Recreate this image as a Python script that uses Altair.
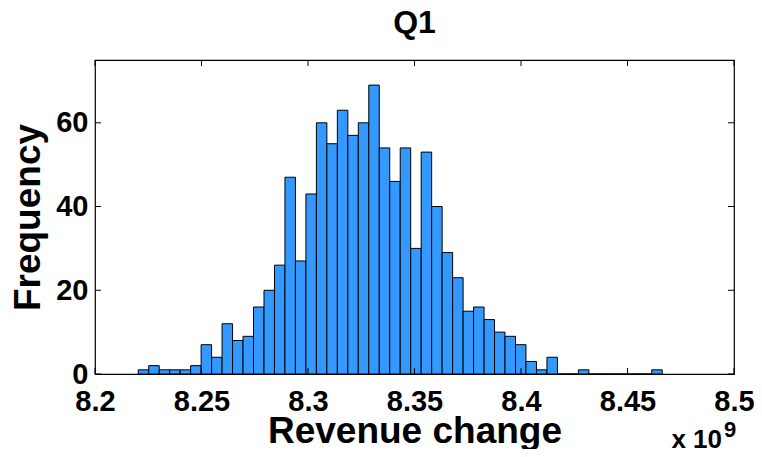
import altair as alt
import pandas as pd
import numpy as np

# Histogram counts (50 equal bins)
counts = [1, 2, 1, 1, 1, 2, 7, 4, 12, 8,
          9, 16, 20, 26, 47, 27, 43, 60, 55, 63,
          57, 60, 69, 54, 46, 54, 30, 53, 40, 29,
          23, 15, 16, 13, 10, 9, 7, 3, 1, 4,
          0, 0, 1, 0, 0, 0, 0, 0, 0, 1]
bin_start = 8.2203   # x 10^9
bin_width = 0.00492  # x 10^9

x_ticks = [8.2, 8.25, 8.3, 8.35, 8.4, 8.45, 8.5]
y_ticks = [0, 20, 40, 60]

W, H = 639, 314
FONT = "Liberation Sans"

edges = bin_start + bin_width * np.arange(len(counts) + 1)
df = pd.DataFrame({"lo": edges[:-1], "hi": edges[1:], "count": counts})
xt = pd.DataFrame({"t": x_ticks})
yt = pd.DataFrame({"t": y_ticks})

xscale = alt.Scale(domain=[8.2, 8.5], nice=False, zero=False)
yscale = alt.Scale(domain=[0, 75], nice=False)

bars = alt.Chart(df).mark_bar(
    color="#3399ff", stroke="black", strokeWidth=1, opacity=1
).encode(
    x=alt.X("lo:Q", scale=xscale,
            axis=alt.Axis(values=x_ticks, format=".3~g", title="Revenue change",
                          labelPadding=13, titlePadding=-3, labelFlush=False)),
    x2="hi:Q",
    y=alt.Y("count:Q", scale=yscale,
            axis=alt.Axis(values=y_ticks, title="Frequency", labelPadding=7,
                          titlePadding=8)),
    y2=alt.datum(0),
)

xt_bottom = alt.Chart(xt).mark_rule(color="black", strokeWidth=1).encode(
    x=alt.X("t:Q", scale=xscale), y=alt.value(H), y2=alt.value(H - 6))
xt_top = alt.Chart(xt).mark_rule(color="black", strokeWidth=1).encode(
    x=alt.X("t:Q", scale=xscale), y=alt.value(0), y2=alt.value(6))
yt_left = alt.Chart(yt).mark_rule(color="black", strokeWidth=1).encode(
    y=alt.Y("t:Q", scale=yscale), x=alt.value(0), x2=alt.value(6))
yt_right = alt.Chart(yt).mark_rule(color="black", strokeWidth=1).encode(
    y=alt.Y("t:Q", scale=yscale), x=alt.value(W), x2=alt.value(W - 6))

exp_base = alt.Chart(pd.DataFrame({"s": ["x 10"]})).mark_text(
    font=FONT, fontWeight="bold", fontSize=26, align="right", baseline="alphabetic",
    color="black"
).encode(text="s:N", x=alt.value(627), y=alt.value(388))
exp_sup = alt.Chart(pd.DataFrame({"s": ["9"]})).mark_text(
    font=FONT, fontWeight="bold", fontSize=22, align="left", baseline="alphabetic",
    color="black"
).encode(text="s:N", x=alt.value(629), y=alt.value(377))

chart = alt.layer(
    bars, xt_bottom, xt_top, yt_left, yt_right, exp_base, exp_sup
).properties(
    width=W, height=H,
    title=alt.TitleParams("Q1", font=FONT, fontWeight="bold", fontSize=32,
                          color="black", offset=20),
    autosize=alt.AutoSizeParams(type="none"),
    padding={"left": 87, "top": 52, "right": 20, "bottom": 75},
).configure_axis(
    domain=False, ticks=False, grid=False,
    labelFont=FONT, labelFontWeight="bold", labelFontSize=29, labelColor="black",
    titleFont=FONT, titleFontWeight="bold", titleFontSize=37, titleColor="black",
).configure_view(
    stroke="black", strokeWidth=1.2
)

chart.save("out.html", embed_options={"renderer": "svg", "actions": False})
